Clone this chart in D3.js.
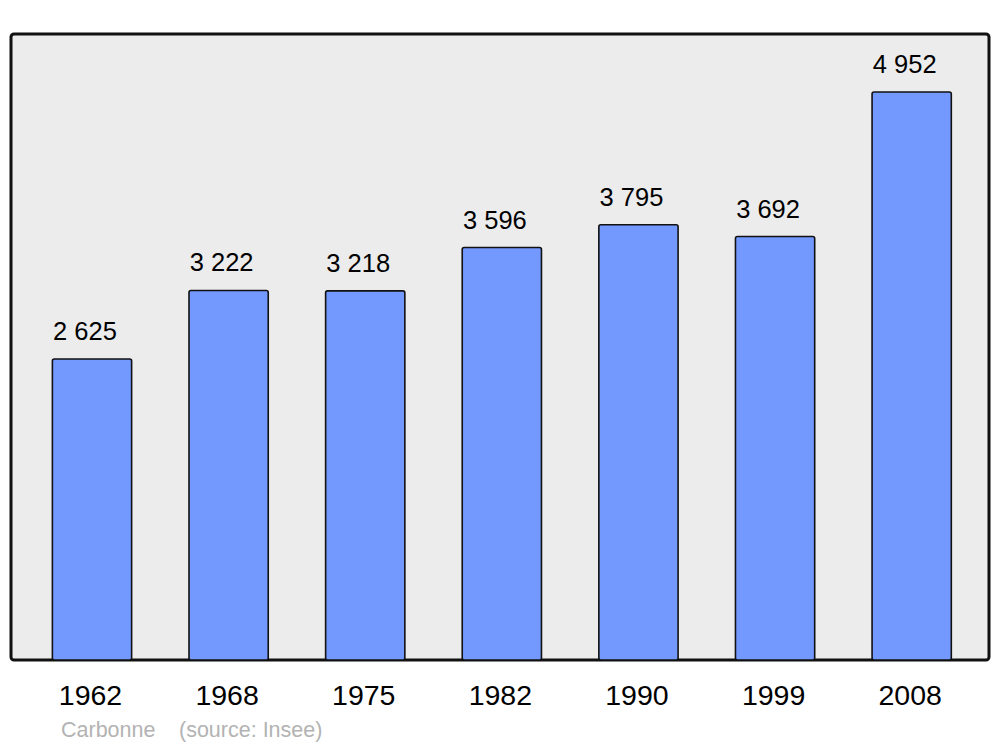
<!DOCTYPE html>
<html><head><meta charset="utf-8">
<script src="https://cdn.jsdelivr.net/npm/d3@7"></script>
<style>body{margin:0;background:#fff}svg{display:block}</style>
</head><body>
<script>
const years = ["1962","1968","1975","1982","1990","1999","2008"];
const population = [2625,3222,3218,3596,3795,3692,4952];
const valueLabels = ["2 625","3 222","3 218","3 596","3 795","3 692","4 952"];
const placeName = "Carbonne";
const sourceText = "(source: Insee)";

const W=1000,H=747;
const svg=d3.select("body").append("svg").attr("width",W).attr("height",H);
const font="Liberation Sans, Arial, sans-serif";

svg.append("rect").attr("x",11).attr("y",34).attr("width",978).attr("height",626)
  .attr("rx",3).attr("fill","#ececec").attr("stroke","#111").attr("stroke-width",3);

const x=d3.scaleBand().domain(years).range([23.7,980]).paddingInner(0.42).paddingOuter(0.21);
const y=d3.scaleLinear().domain([0,5458]).range([660,34]);

svg.selectAll("rect.bar").data(years).enter().append("rect").attr("class","bar")
  .attr("x",d=>x(d)).attr("width",x.bandwidth())
  .attr("y",(d,i)=>y(population[i])).attr("height",(d,i)=>y(0)-y(population[i]))
  .attr("rx",2).attr("fill","#7399ff").attr("stroke","#111").attr("stroke-width",1.6);

svg.selectAll("text.val").data(years).enter().append("text").attr("class","val")
  .attr("x",d=>x(d)+x.bandwidth()/2-7).attr("y",(d,i)=>y(population[i])-19)
  .attr("text-anchor","middle").attr("font-family",font).attr("font-size",25.5).attr("fill","#000")
  .text((d,i)=>valueLabels[i]);

const xAxis=svg.append("g").attr("transform","translate(0,660)")
  .call(d3.axisBottom(x).tickSize(0).tickPadding(0));
xAxis.select(".domain").remove();
xAxis.selectAll("text").attr("font-family",font).attr("font-size",28.5).attr("fill","#000")
  .attr("dy",null).attr("y",45).attr("dx",-1.5);

svg.append("text").attr("x",61).attr("y",737).attr("font-family",font).attr("font-size",21.5)
  .attr("fill","#b3b3b3").text(placeName);
svg.append("text").attr("x",179).attr("y",737).attr("font-family",font).attr("font-size",21.5)
  .attr("fill","#b3b3b3").text(sourceText);
</script>
</body></html>
